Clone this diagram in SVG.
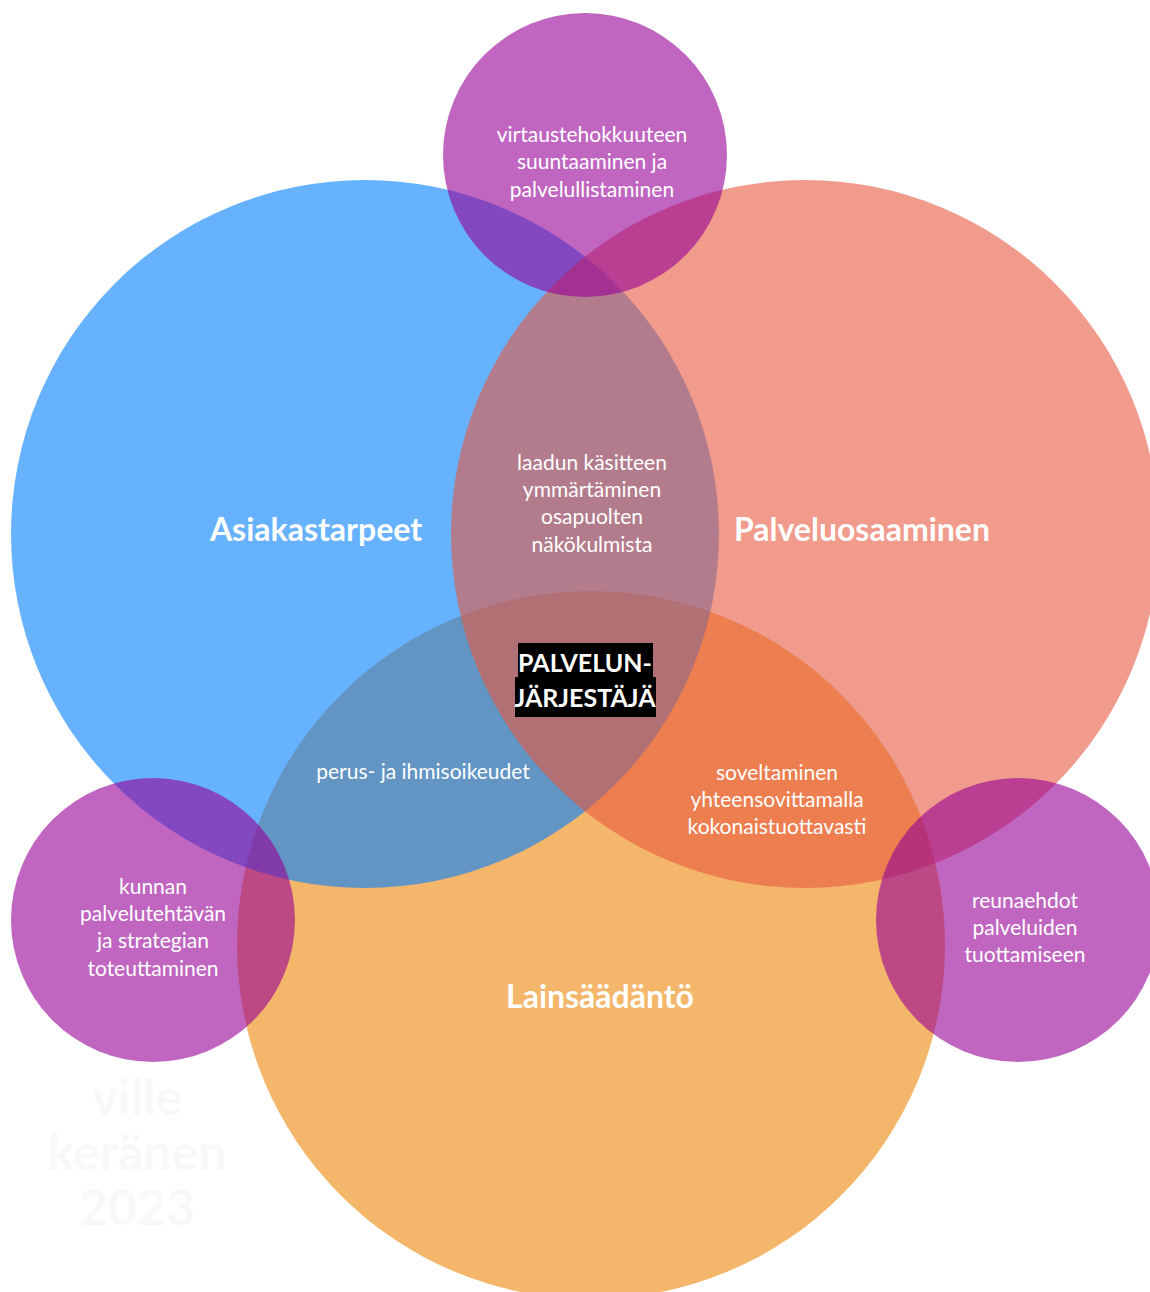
<svg xmlns="http://www.w3.org/2000/svg" width="1150" height="1292" viewBox="0 0 1150 1292">
  <style>
    .lbl { font-family: Lato, "Open Sans", "Liberation Sans", sans-serif; font-size: 21px; fill: #ffffff; text-anchor: middle; }
    .big { font-family: Lato, "Open Sans", "Liberation Sans", sans-serif; font-size: 32px; font-weight: 700; fill: #ffffff; text-anchor: middle; }
    .core { font-family: Lato, "Open Sans", "Liberation Sans", sans-serif; font-size: 25px; font-weight: 700; fill: #ffffff; text-anchor: middle; }
    .mark { font-family: Lato, "Open Sans", "Liberation Sans", sans-serif; font-size: 50px; font-weight: 700; fill: #f8f8f8; text-anchor: middle; }
  </style>
  <rect width="1150" height="1292" fill="#ffffff"/>

  <!-- faint signature -->
  <g id="signature">
    <text class="mark" x="137" y="1115">ville</text>
    <text class="mark" x="137" y="1170">keränen</text>
    <text class="mark" x="137" y="1225">2023</text>
  </g>

  <!-- main circles: law at the bottom, customer needs, then service competence -->
  <g id="lainsaadanto">
    <circle cx="591" cy="945" r="354" fill="#F4B66A"/>
  </g>
  <g id="asiakastarpeet">
    <circle cx="365" cy="534" r="354" fill="#007FFF" fill-opacity="0.6"/>
  </g>
  <g id="palveluosaaminen">
    <circle cx="805" cy="534" r="354" fill="#E6583F" fill-opacity="0.6"/>
  </g>

  <!-- satellite circles -->
  <g id="virtaustehokkuus">
    <circle cx="585" cy="155" r="142" fill="#960096" fill-opacity="0.6"/>
  </g>
  <g id="kunnan-palvelutehtava">
    <circle cx="153" cy="920" r="142" fill="#960096" fill-opacity="0.6"/>
  </g>
  <g id="reunaehdot">
    <circle cx="1018" cy="920" r="142" fill="#960096" fill-opacity="0.6"/>
  </g>

  <!-- labels -->
  <g id="labels">
    <text class="lbl" x="592" y="142">virtaustehokkuuteen</text>
    <text class="lbl" x="592" y="169">suuntaaminen ja</text>
    <text class="lbl" x="592" y="197">palvelullistaminen</text>

    <text class="big" x="316" y="541">Asiakastarpeet</text>
    <text class="big" x="862" y="541">Palveluosaaminen</text>
    <text class="big" x="600" y="1008">Lainsäädäntö</text>

    <text class="lbl" x="592" y="470">laadun käsitteen</text>
    <text class="lbl" x="592" y="497">ymmärtäminen</text>
    <text class="lbl" x="592" y="524">osapuolten</text>
    <text class="lbl" x="592" y="552">näkökulmista</text>

    <text class="lbl" x="423" y="779">perus- ja ihmisoikeudet</text>

    <text class="lbl" x="777" y="780">soveltaminen</text>
    <text class="lbl" x="777" y="807">yhteensovittamalla</text>
    <text class="lbl" x="777" y="834">kokonaistuottavasti</text>

    <text class="lbl" x="153" y="894">kunnan</text>
    <text class="lbl" x="153" y="921">palvelutehtävän</text>
    <text class="lbl" x="153" y="948">ja strategian</text>
    <text class="lbl" x="153" y="976">toteuttaminen</text>

    <text class="lbl" x="1025" y="908">reunaehdot</text>
    <text class="lbl" x="1025" y="935">palveluiden</text>
    <text class="lbl" x="1025" y="962">tuottamiseen</text>
  </g>

  <!-- centre title on black bars -->
  <g id="palvelunjarjestaja">
    <rect x="518" y="643" width="135" height="35" fill="#000000"/>
    <rect x="515" y="677" width="141" height="40" fill="#000000"/>
    <text class="core" x="585" y="672">PALVELUN-</text>
    <text class="core" x="585" y="707">JÄRJESTÄJÄ</text>
  </g>
</svg>
